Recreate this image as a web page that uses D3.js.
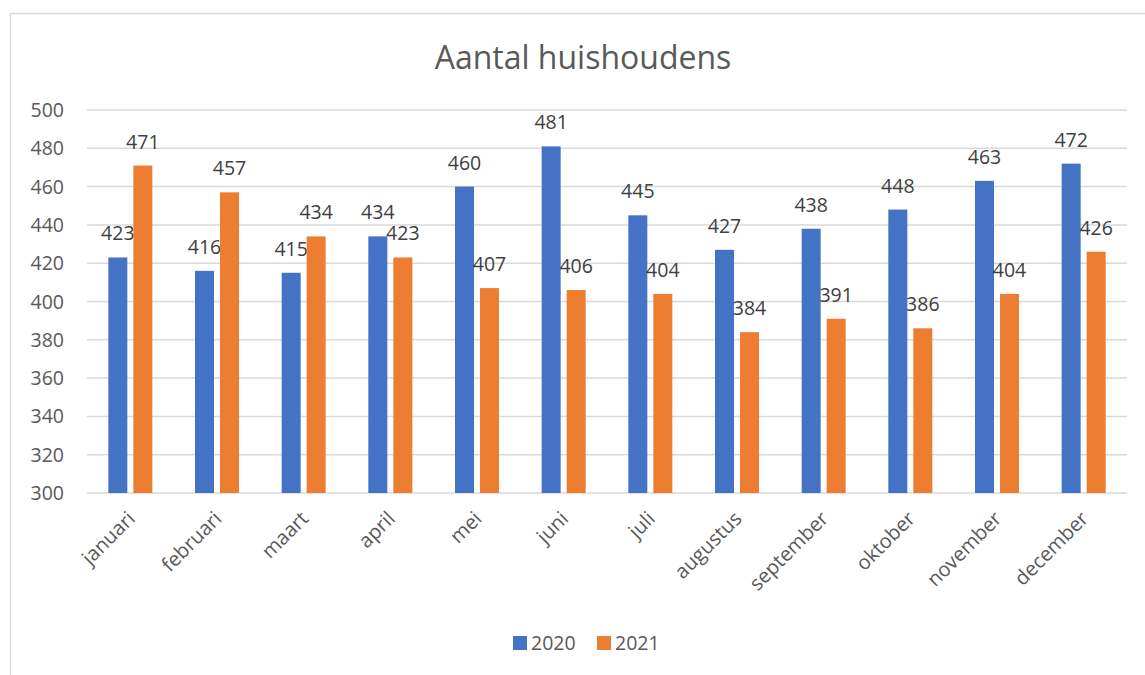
<!DOCTYPE html>
<meta charset="utf-8">
<script src="https://d3js.org/d3.v7.min.js"></script>
<style>
    body {margin: 0; background: #fff; font-family: 'Open Sans', sans-serif;}
</style>
<body>
<svg width="1145" height="675"></svg>
<script>
    // data
    const months = ["januari","februari","maart","april","mei","juni","juli","augustus","september","oktober","november","december"];
    const series = ["2020","2021"];
    const values2020 = [423,416,415,434,460,481,445,427,438,448,463,472];
    const values2021 = [471,457,434,423,407,406,404,384,391,386,404,426];
    const yTicks = [300,320,340,360,380,400,420,440,460,480,500];
    const colors = ["#4472C4","#ED7D31"];

    var svg = d3.select("svg");
    var pLeft = 87, pRight = 1127, pTop = 110, pBottom = 493;

    // chart frame
    svg.append("rect")
        .attr("x", 10.5).attr("y", 13.5)
        .attr("width", 1160).attr("height", 700)
        .style("fill", "none").style("stroke", "#d9d9d9").style("stroke-width", 1.5);

    svg.append("text")
        .attr("x", 583).attr("y", 69)
        .attr("text-anchor", "middle")
        .style("font-size", "32px")
        .style("fill", "#595959")
        .text("Aantal huishoudens");

    var x = d3.scaleBand().domain(months).range([pLeft, pRight]);
    var y = d3.scaleLinear().domain([300, 500]).range([pBottom, pTop]);
    var barW = 19, offs = 12.5;

    // gridlines
    svg.append("g").selectAll("line")
        .data(yTicks)
        .enter().append("line")
        .attr("x1", pLeft).attr("x2", pRight)
        .attr("y1", d => y(d)).attr("y2", d => y(d))
        .style("stroke", "#d9d9d9").style("stroke-width", 1.5);

    svg.append("g").selectAll("text")
        .data(yTicks)
        .enter().append("text")
        .attr("x", 64).attr("y", d => y(d) + 7)
        .attr("text-anchor", "end")
        .style("font-size", "19.5px").style("fill", "#595959")
        .text(d => d);

    var rows = [values2020, values2021];
    rows.forEach(function(vals, s){
        var dx = s == 0 ? -offs : offs;
        var g = svg.append("g");
        g.selectAll("rect")
            .data(vals)
            .enter().append("rect")
            .attr("x", (d, i) => x(months[i]) + x.bandwidth()/2 + dx - barW/2)
            .attr("y", d => y(d))
            .attr("width", barW)
            .attr("height", d => y(300) - y(d))
            .style("fill", colors[s]);
        g.selectAll("text")
            .data(vals)
            .enter().append("text")
            .attr("x", (d, i) => x(months[i]) + x.bandwidth()/2 + dx)
            .attr("y", d => y(d) - 17)
            .attr("text-anchor", "middle")
            .style("font-size", "19.5px").style("fill", "#404040")
            .text(d => d);
    });

    // rotated month labels
    svg.append("g").selectAll("text")
        .data(months)
        .enter().append("text")
        .attr("transform", d => "translate(" + (x(d) + x.bandwidth()/2 - 4) + "," + (pBottom + 17) + ") rotate(-45)")
        .attr("text-anchor", "end")
        .attr("dy", "0.7em")
        .style("font-size", "20px").style("fill", "#595959")
        .text(d => d);

    // legend
    var legend = svg.append("g").attr("transform", "translate(513,636)");
    var lx = [0, 84];
    series.forEach(function(s, i){
        legend.append("rect")
            .attr("x", lx[i]).attr("y", 0)
            .attr("width", 14).attr("height", 14)
            .style("fill", colors[i]);
        legend.append("text")
            .attr("x", lx[i] + 18).attr("y", 14)
            .style("font-size", "19.5px").style("fill", "#595959")
            .text(s);
    });
</script>
</body>
